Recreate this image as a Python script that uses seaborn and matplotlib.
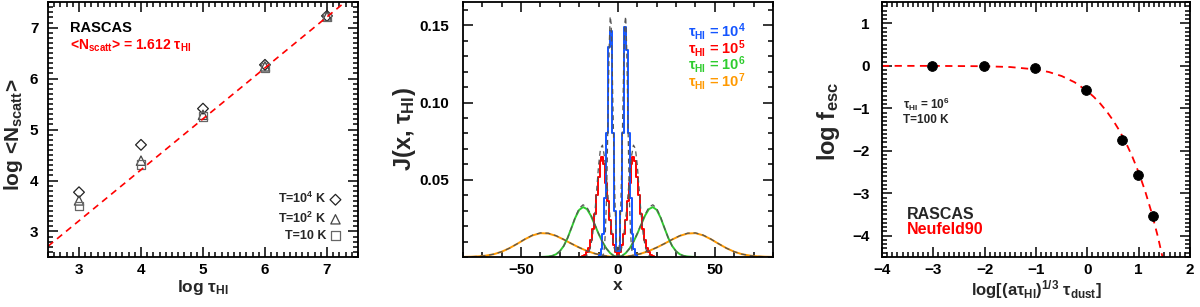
import numpy as np
import pandas as pd
import seaborn as sns
import matplotlib.pyplot as plt
from matplotlib.ticker import MultipleLocator

# ---- panel 1: number of scatterings vs optical depth
log_tau = [3, 4, 5, 6, 7]
nscatt_T1e4 = [3.77, 4.70, 5.41, 6.27, 7.23]
nscatt_T1e2 = [3.61, 4.39, 5.29, 6.24, 7.22]
nscatt_T10 = [3.50, 4.31, 5.25, 6.21, 7.21]
fit_x = [2.5, 7.5]
fit_y = [2.71, 7.71]

# ---- panel 2: spectra J(x, tau)
blue_hist_x = np.arange(-10.5, 11, 1)
blue_hist_J = [0.0, 0.001, 0.005, 0.015, 0.038, 0.08, 0.136, 0.146, 0.08, 0.03, 0.004,
               0.004, 0.03, 0.08, 0.149, 0.134, 0.08, 0.038, 0.015, 0.005, 0.001, 0.0]
red_hist_x = np.arange(-20, 21, 1)
red_hist_J = [0.0, 0.0002, 0.0007, 0.0015, 0.003, 0.006, 0.011, 0.018, 0.028, 0.040,
              0.052, 0.062, 0.065, 0.060, 0.048, 0.036, 0.024, 0.015, 0.008, 0.003,
              0.001,
              0.003, 0.008, 0.015, 0.024, 0.036, 0.048, 0.060, 0.065, 0.062, 0.052,
              0.040, 0.028, 0.018, 0.011, 0.006, 0.003, 0.0015, 0.0007, 0.0002, 0.0]
green_x = np.arange(-40, 41, 2)
green_hist_J = [0.0, 0.0001, 0.0003, 0.0007, 0.0017, 0.0037, 0.0071, 0.0123, 0.0188, 0.0255,
                0.0305, 0.0323, 0.0310, 0.0268, 0.0210, 0.0150, 0.0098, 0.0055, 0.0025, 0.0006,
                0.0,
                0.0006, 0.0025, 0.0055, 0.0098, 0.0150, 0.0210, 0.0268, 0.0310, 0.0323, 0.0305,
                0.0255, 0.0188, 0.0123, 0.0071, 0.0037, 0.0017, 0.0007, 0.0003, 0.0001, 0.0]
orange_x = np.arange(-80, 81, 4)
orange_hist_J = [0.00005, 0.00015, 0.0004, 0.0009, 0.0018, 0.0034, 0.0057, 0.0085, 0.0115, 0.0140,
                 0.0154, 0.0152, 0.0137, 0.0113, 0.0086, 0.0061, 0.0039, 0.0022, 0.0010, 0.0002,
                 0.0,
                 0.0002, 0.0010, 0.0022, 0.0039, 0.0061, 0.0086, 0.0113, 0.0137, 0.0152, 0.0154,
                 0.0140, 0.0115, 0.0085, 0.0057, 0.0034, 0.0018, 0.0009, 0.0004, 0.00015, 0.00005]

# analytic solutions (dashed)
blue_ana_x = np.arange(-9, 9.5, 0.5)
blue_ana_J = [0.0, 0.0001, 0.0005, 0.0019, 0.0060, 0.0155, 0.0340, 0.0634, 0.1009, 0.1369,
              0.1558, 0.1511, 0.1264, 0.0933, 0.0611, 0.0346, 0.0154, 0.0039,
              0.0,
              0.0039, 0.0154, 0.0346, 0.0611, 0.0933, 0.1264, 0.1511, 0.1558, 0.1369, 0.1009,
              0.0634, 0.0340, 0.0155, 0.0060, 0.0019, 0.0005, 0.0001, 0.0]
red_ana_x = np.arange(-18, 19, 1)
red_ana_J = [0.0001, 0.0003, 0.0011, 0.0030, 0.0072, 0.0151, 0.0272, 0.0430, 0.0592, 0.0703,
             0.0724, 0.0652, 0.0522, 0.0377, 0.0245, 0.0139, 0.0062, 0.0015,
             0.0,
             0.0015, 0.0062, 0.0139, 0.0245, 0.0377, 0.0522, 0.0652, 0.0724, 0.0703, 0.0592,
             0.0430, 0.0272, 0.0151, 0.0072, 0.0030, 0.0011, 0.0003, 0.0001]
green_ana_J = [0.0, 0.0001, 0.0002, 0.0006, 0.0016, 0.0036, 0.0070, 0.0122, 0.0189, 0.0259,
               0.0315, 0.0338, 0.0322, 0.0275, 0.0213, 0.0152, 0.0098, 0.0055, 0.0025, 0.0006,
               0.0,
               0.0006, 0.0025, 0.0055, 0.0098, 0.0152, 0.0213, 0.0275, 0.0322, 0.0338, 0.0315,
               0.0259, 0.0189, 0.0122, 0.0070, 0.0036, 0.0016, 0.0006, 0.0002, 0.0001, 0.0]
orange_ana_J = [0.00005, 0.00015, 0.00039, 0.00089, 0.00184, 0.0034, 0.00567, 0.00854, 0.01157, 0.01416,
                0.01558, 0.0154, 0.01379, 0.01135, 0.00865, 0.00611, 0.00393, 0.00222, 0.00099, 0.00025,
                0.0,
                0.00025, 0.00099, 0.00222, 0.00393, 0.00611, 0.00865, 0.01135, 0.01379, 0.0154, 0.01558,
                0.01416, 0.01157, 0.00854, 0.00567, 0.0034, 0.00184, 0.00089, 0.00039, 0.00015, 0.00005]

# ---- panel 3: escape fraction with dust
dust_x = [-3.02, -2.02, -1.02, -0.03, 0.68, 0.98, 1.28]
fesc_y = [0.0, 0.0, -0.05, -0.56, -1.74, -2.58, -3.54]
neuf_x = [-4, -3, -2, -1.5, -1, -0.75, -0.5, -0.25, 0, 0.125, 0.25, 0.375, 0.5, 0.625,
          0.75, 0.875, 1.0, 1.125, 1.25, 1.375, 1.5]
neuf_y = [0.0, -0.001, -0.009, -0.028, -0.085, -0.145, -0.24, -0.385, -0.596, -0.730, -0.887,
          -1.070, -1.281, -1.526, -1.808, -2.136, -2.511, -2.947, -3.450, -4.030, -4.70]

sns.set_style('ticks')
plt.rcParams['font.family'] = ['Liberation Sans', 'DejaVu Sans']
plt.rcParams['font.weight'] = 'bold'
plt.rcParams['axes.labelweight'] = 'bold'
plt.rcParams['mathtext.fontset'] = 'custom'
plt.rcParams['mathtext.rm'] = 'Liberation Sans:bold'
plt.rcParams['mathtext.it'] = 'Liberation Sans:bold'
plt.rcParams['mathtext.bf'] = 'Liberation Sans:bold'
plt.rcParams['axes.linewidth'] = 1.3
plt.rcParams['axes.edgecolor'] = 'black'

BLUE = '#1455ff'
RED = '#ff0000'
GREEN = '#2ecc2e'
ORANGE = '#ff9900'

fig = plt.figure(figsize=(12, 3.07), dpi=100)
ax1 = fig.add_axes([0.040, 0.163, 0.2583, 0.830])
ax2 = fig.add_axes([0.3858, 0.163, 0.2583, 0.830])
ax3 = fig.add_axes([0.735, 0.163, 0.2567, 0.830])


def style(ax, minx, miny):
    ax.xaxis.set_minor_locator(MultipleLocator(minx))
    ax.yaxis.set_minor_locator(MultipleLocator(miny))
    ax.tick_params(which='both', direction='in', top=True, right=True,
                   labelsize=11, width=1.1, colors='black')
    ax.tick_params(which='major', length=7)
    ax.tick_params(axis='x', which='major', pad=4)
    ax.tick_params(axis='y', which='major', pad=7)
    ax.tick_params(which='minor', length=3.5)
    for s in ax.spines.values():
        s.set_visible(True)


# panel 1
sns.lineplot(x=fit_x, y=fit_y, ax=ax1, color=RED, lw=1.2)
ax1.lines[-1].set_linestyle((0, (4, 3)))
sns.scatterplot(x=log_tau, y=nscatt_T1e4, ax=ax1, marker='D', s=30, facecolor='none',
                edgecolor='#222222', linewidth=0.9, label=r'T=10$^4$ K')
sns.scatterplot(x=log_tau, y=nscatt_T1e2, ax=ax1, marker='^', s=45, facecolor='none',
                edgecolor='#444444', linewidth=0.9, label=r'T=10$^2$ K')
sns.scatterplot(x=log_tau, y=nscatt_T10, ax=ax1, marker='s', s=40, facecolor='none',
                edgecolor='#666666', linewidth=0.9, label='T=10 K')
ax1.set_xlim(2.5, 7.5)
ax1.set_ylim(2.5, 7.5)
ax1.set_xticks([3, 4, 5, 6, 7])
ax1.set_yticks([3, 4, 5, 6, 7])
style(ax1, 0.1, 0.1)
ax1.set_xlabel(r'log $\tau_{\rm HI}$', fontsize=12.5, labelpad=1)
ax1.set_ylabel(r'log <N$_{\rm scatt}$>', fontsize=15)
ax1.yaxis.set_label_coords(-0.075, 0.48)
ax1.legend(loc='lower right', markerfirst=False, frameon=False, fontsize=9,
           handletextpad=0.1, labelspacing=0.35, borderaxespad=0.8, handlelength=1.2)
ax1.text(0.07, 0.90, 'RASCAS', transform=ax1.transAxes, fontsize=10.5,
         va='center', color='black')
ax1.text(0.07, 0.83, r'<N$_{\rm scatt}$> = 1.612 $\tau_{\rm HI}$', transform=ax1.transAxes,
         fontsize=10, va='center', color=RED)

# panel 2
sns.lineplot(x=orange_x, y=orange_hist_J, ax=ax2, color=ORANGE, lw=1.4)
sns.lineplot(x=green_x, y=green_hist_J, ax=ax2, color=GREEN, lw=1.4)
sns.lineplot(x=red_hist_x, y=red_hist_J, ax=ax2, color=RED, lw=1.4, drawstyle='steps-mid')
sns.lineplot(x=blue_hist_x, y=blue_hist_J, ax=ax2, color=BLUE, lw=1.4, drawstyle='steps-mid')
for xx, yy in [(orange_x, orange_ana_J), (green_x, green_ana_J),
               (red_ana_x, red_ana_J), (blue_ana_x, blue_ana_J)]:
    sns.lineplot(x=xx, y=yy, ax=ax2, color='#555555', lw=0.9)
    ax2.lines[-1].set_linestyle((0, (4, 3)))
ax2.set_xlim(-80, 80)
ax2.set_ylim(0, 0.165)
ax2.set_xticks([-50, 0, 50])
ax2.set_yticks([0.05, 0.10, 0.15])
ax2.set_yticklabels(['0.05', '0.10', '0.15'])
style(ax2, 10, 0.01)
ax2.tick_params(axis='y', which='major', pad=10)
ax2.set_xlabel('x', fontsize=12.5, labelpad=1)
ax2.set_ylabel(r'J(x, $\tau_{\rm HI}$)', fontsize=17)
ax2.yaxis.set_label_coords(-0.145, 0.5)
for i, (lab, col) in enumerate([('4', BLUE), ('5', RED), ('6', GREEN), ('7', ORANGE)]):
    ax2.text(0.725, 0.885 - i * 0.065, r'$\tau_{\rm HI}$ = 10$^{%s}$' % lab,
             transform=ax2.transAxes, fontsize=10.5, va='center', color=col)

# panel 3
sns.lineplot(x=neuf_x, y=neuf_y, ax=ax3, color=RED, lw=1.3)
ax3.lines[-1].set_linestyle((0, (4, 3)))
sns.scatterplot(x=dust_x, y=fesc_y, ax=ax3, color='black', s=50, edgecolor='black', zorder=3)
ax3.set_xlim(-4, 2)
ax3.set_ylim(-4.5, 1.5)
ax3.set_xticks([-4, -3, -2, -1, 0, 1, 2])
ax3.set_yticks([-4, -3, -2, -1, 0, 1])
style(ax3, 0.1, 0.1)
ax3.tick_params(axis='y', which='major', pad=9)
ax3.set_xlabel(r'log[(a$\tau_{\rm HI}$)$^{1/3}$ $\tau_{\rm dust}$]', fontsize=12, labelpad=1)
ax3.set_ylabel(r'log f$_{\rm esc}$', fontsize=17)
ax3.yaxis.set_label_coords(-0.13, 0.53)
ax3.text(0.068, 0.60, r'$\tau_{\rm HI}$ = 10$^6$', transform=ax3.transAxes, fontsize=8.5,
         va='center')
ax3.text(0.068, 0.537, 'T=100 K', transform=ax3.transAxes, fontsize=8.5, va='center')
ax3.text(0.08, 0.165, 'RASCAS', transform=ax3.transAxes, fontsize=11.5, va='center')
ax3.text(0.08, 0.106, 'Neufeld90', transform=ax3.transAxes, fontsize=11.5, va='center', color=RED)

fig.savefig('out.png', dpi=100)
